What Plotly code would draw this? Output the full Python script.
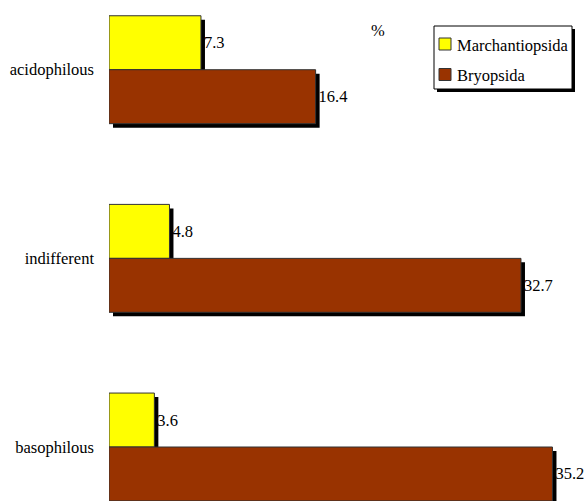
import plotly.graph_objects as go

# Substrate preference groups (bottom to top on the axis)
categories = ["basophilous", "indifferent", "acidophilous"]
marchantiopsida = [3.6, 4.8, 7.3]
bryopsida = [35.2, 32.7, 16.4]

series_names = ["Marchantiopsida", "Bryopsida"]
series_colors = ["#FFFF00", "#993300"]

FONT = "Liberation Serif"
FS = 16.5

W, H = 587, 501
ML = 109
PW = W - ML
X_MAX = 37.94
Y_RANGE = [-0.2862, 2.3695]
BAR_W = 0.286

# shadow displacement in data units (about 4 px right and 4 px down)
px_x = PW / X_MAX
px_y = H / (Y_RANGE[1] - Y_RANGE[0])
SH_X = 4 / px_x
SH_Y = 4 / px_y


def fx(px):
    """Pixel column -> paper x."""
    return (px - ML) / PW


def fy(py):
    """Pixel row -> paper y."""
    return 1 - py / H


def tfont():
    return dict(family=FONT, size=FS, color="black")


fig = go.Figure()

series = [(series_names[0], marchantiopsida, series_colors[0], 0.0),
          (series_names[1], bryopsida, series_colors[1], -BAR_W)]

# drop shadows first so they sit behind the bars
for name, vals, color, off in series:
    fig.add_trace(go.Bar(
        y=categories, x=vals, orientation="h",
        base=SH_X, offset=off - SH_Y, width=BAR_W,
        marker=dict(color="black", line=dict(width=0)),
        showlegend=False, hoverinfo="skip",
    ))

for name, vals, color, off in series:
    fig.add_trace(go.Bar(
        name=name, y=categories, x=vals, orientation="h",
        offset=off, width=BAR_W,
        marker=dict(color=color, line=dict(color="#333333", width=1)),
        text=[f"{v:.1f}" for v in vals], textposition="outside",
        outsidetextfont=tfont(),
        constraintext="none", cliponaxis=False, showlegend=False,
    ))

# boxed legend with a drop shadow
shapes = [
    dict(type="rect", xref="paper", yref="paper", layer="above",
         x0=fx(437), x1=fx(575), y0=fy(92), y1=fy(29),
         fillcolor="black", line=dict(width=0)),
    dict(type="rect", xref="paper", yref="paper", layer="above",
         x0=fx(434), x1=fx(572), y0=fy(89), y1=fy(26),
         fillcolor="white", line=dict(color="black", width=1)),
]
annotations = [dict(text="%", x=fx(378), y=fy(30), xref="paper", yref="paper",
                    xanchor="center", yanchor="middle", showarrow=False,
                    font=tfont())]
for i, (name, color) in enumerate(zip(series_names, series_colors)):
    cy = 44 + i * 30.5
    shapes.append(dict(type="rect", xref="paper", yref="paper", layer="above",
                       x0=fx(439), x1=fx(451), y0=fy(cy + 6), y1=fy(cy - 6),
                       fillcolor=color, line=dict(color="#333333", width=1)))
    annotations.append(dict(text=name, x=fx(455), y=fy(cy + 1), xref="paper", yref="paper",
                            xanchor="left", yanchor="middle", showarrow=False,
                            font=tfont()))

fig.update_layout(
    width=W, height=H,
    margin=dict(l=ML, r=0, t=0, b=0, autoexpand=False),
    paper_bgcolor="white", plot_bgcolor="white",
    barmode="overlay", showlegend=False,
    xaxis=dict(range=[0, X_MAX], showgrid=False, zeroline=False,
               showticklabels=False, showline=False, ticks=""),
    yaxis=dict(type="category", categoryorder="array", categoryarray=categories,
               range=Y_RANGE, showgrid=False, zeroline=False, showline=False,
               ticks="", ticklabelstandoff=14, tickfont=tfont()),
    shapes=shapes,
    annotations=annotations,
)

fig.write_html("out.html")
